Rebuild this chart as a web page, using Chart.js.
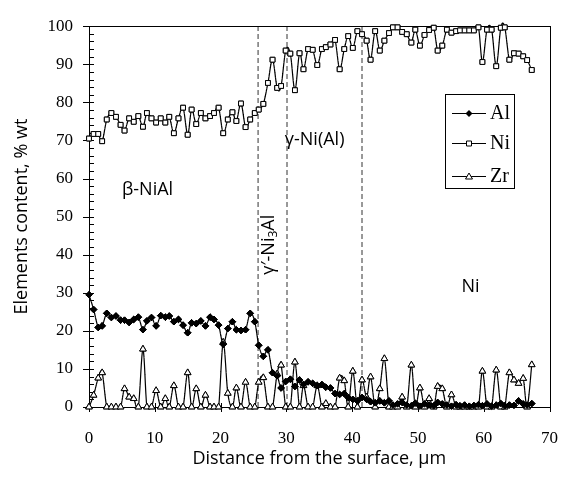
<!DOCTYPE html>
<html>
<head>
<meta charset="utf-8">
<script src="https://cdn.jsdelivr.net/npm/chart.js@4.4.1/dist/chart.umd.min.js"></script>
<style>
  html, body { margin: 0; padding: 0; background: #fff; }
  #wrap { width: 579px; height: 477px; position: relative; }
</style>
</head>
<body>
<div id="wrap"><canvas id="chart"></canvas></div>
<script>
// distance from the surface, µm
const distance = [
  0, 0.7, 1.4, 2.0, 2.7, 3.4, 4.1, 4.8, 5.4, 6.1,
  6.8, 7.5, 8.2, 8.8, 9.5, 10.2, 10.9, 11.6, 12.2, 12.9,
  13.6, 14.3, 15.0, 15.6, 16.3, 17.0, 17.7, 18.4, 19.0, 19.7,
  20.4, 21.1, 21.8, 22.4, 23.1, 23.8, 24.5, 25.2, 25.8, 26.5,
  27.2, 27.9, 28.6, 29.2, 29.9, 30.6, 31.3, 32.0, 32.6, 33.3,
  34.0, 34.7, 35.4, 36.0, 36.7, 37.4, 38.1, 38.8, 39.4, 40.1,
  40.8, 41.5, 42.2, 42.8, 43.5, 44.2, 44.9, 45.6, 46.2, 46.9,
  47.6, 48.3, 49.0, 49.6, 50.3, 51.0, 51.7, 52.4, 53.0, 53.7,
  54.4, 55.1, 55.8, 56.4, 57.1, 57.8, 58.5, 59.2, 59.8, 60.5,
  61.2, 61.9, 62.6, 63.2, 63.9, 64.6, 65.3, 66.0, 66.6, 67.3
]

const alValues = [
  29.5, 25.6, 20.9, 21.3, 24.6, 23.5, 23.9, 22.8, 22.8, 22.2,
  23.0, 23.6, 20.3, 22.6, 23.5, 21.3, 24.0, 23.6, 23.9, 22.4,
  23.0, 21.5, 19.5, 22.1, 21.9, 22.6, 21.3, 23.6, 23.0, 21.5,
  16.5, 20.6, 22.4, 20.3, 20.1, 20.3, 24.6, 22.4, 16.2, 13.3,
  15.0, 9.0, 8.2, 5.0, 6.7, 7.3, 5.4, 7.1, 5.9, 6.6,
  6.2, 5.6, 5.9, 5.2, 5.0, 3.5, 3.3, 3.5, 2.5, 2.0,
  1.6, 2.5, 2.0, 1.4, 1.1, 1.6, 1.1, 1.6, 0.5, 0.8,
  1.2, 0.5, 0.3, 1.0, 0.2, 0.8, 0.5, 0.3, 1.2, 0.8,
  0.5, 0.2, 0.6, 0.3, 0.5, 0.2, 0.4, 0.6, 0.3, 0.8,
  0.2, 0.5, 0.9, 0.3, 0.5, 0.4, 1.6, 0.8, 0.5, 0.9
]

const niValues = [
  70.5, 71.7, 71.7, 69.8, 75.5, 77.2, 76.2, 74.1, 72.6, 75.8,
  74.9, 76.4, 73.6, 77.2, 75.8, 74.7, 75.8, 74.7, 76.2, 71.9,
  75.8, 78.6, 71.5, 78.1, 74.3, 77.2, 75.8, 76.4, 77.2, 78.6,
  71.9, 75.5, 77.4, 75.1, 79.7, 73.5, 75.5, 77.2, 78.1, 79.6,
  85.1, 91.2, 83.8, 84.3, 93.6, 92.8, 83.2, 92.9, 88.7, 94.0,
  93.8, 89.8, 94.0, 94.5, 95.2, 96.4, 88.7, 94.0, 97.4, 94.3,
  98.7, 97.9, 96.2, 91.2, 98.7, 93.6, 96.2, 98.2, 99.7, 99.7,
  98.5, 97.9, 95.7, 99.1, 94.9, 97.7, 99.0, 99.6, 93.6, 94.9,
  99.1, 98.3, 98.7, 98.9, 98.9, 98.9, 98.9, 99.7, 90.6, 99.1,
  99.1, 89.5, 99.6, 99.7, 91.2, 92.9, 92.8, 92.1, 91.1, 88.5
]

const zrValues = [
  0, 3.1, 7.6, 9.0, 0, 0, 0, 0, 4.8, 2.6,
  2.2, 0, 15.2, 0, 0, 4.3, 0, 2.2, 0, 5.6,
  0, 0, 9.0, 0, 4.8, 0, 3.1, 0, 0, 0,
  17.0, 3.6, 0, 5.0, 0, 6.5, 0, 0, 6.5, 7.7,
  0, 0, 8.7, 11.0, 0, 0, 11.8, 0, 5.6, 0,
  0, 5.6, 0, 0.9, 0, 0, 7.6, 6.9, 0, 9.4,
  0, 7.1, 2.6, 7.9, 0, 4.8, 12.7, 0, 0, 0,
  2.6, 0, 11.0, 0, 5.0, 0, 2.2, 0, 5.4, 4.8,
  0, 3.2, 0, 0, 0, 0, 0, 0, 9.4, 0,
  0, 9.7, 0, 0, 9.0, 7.1, 6.2, 7.5, 0, 11.1
]

// phase boundaries (dashed lines), µm
const boundaries = [25.7, 30.1, 41.5]

const xTicks = [0, 10, 20, 30, 40, 50, 60, 70]
const yTicks = [0, 10, 20, 30, 40, 50, 60, 70, 80, 90, 100]

const seriesNames = ['Al', 'Ni', 'Zr']
const seriesValues = [alValues, niValues, zrValues]

const toPoints = vals => vals.map((v, i) => ({ x: distance[i], y: v }))

const serif = 'Liberation Serif'
const sans = 'Open Sans'

const seriesStyle = {
  borderColor: '#000',
  borderWidth: 1,
  showLine: false,
  pointBorderColor: '#000',
  pointBorderWidth: 1
}

const boundarySets = boundaries.map(b => ({
  label: '',
  data: [{ x: b, y: 0 }, { x: b, y: 100 }],
  borderColor: '#333',
  borderWidth: 1,
  borderDash: [5, 3],
  pointRadius: 0,
  tension: 0
}))

// the connecting curves would not show as strokes, so each curve is laid down
// as thin filled strips along a smoothed path through the scale positions,
// then the library's markers are drawn again on top
function fillCurve(ctx, px, py, top, bottom) {
  const half = 0.6
  const steps = 8
  for (let i = 0; i < px.length - 1; i++) {
    const i0 = Math.max(i - 1, 0), i3 = Math.min(i + 2, px.length - 1)
    const c1x = px[i] + (px[i + 1] - px[i0]) / 6, c1y = py[i] + (py[i + 1] - py[i0]) / 6
    const c2x = px[i + 1] - (px[i3] - px[i]) / 6, c2y = py[i + 1] - (py[i3] - py[i]) / 6
    const q = []
    for (let s = 0; s <= steps; s++) {
      const t = s / steps, u = 1 - t
      const bx = u * u * u * px[i] + 3 * u * u * t * c1x + 3 * u * t * t * c2x + t * t * t * px[i + 1]
      const by = u * u * u * py[i] + 3 * u * u * t * c1y + 3 * u * t * t * c2y + t * t * t * py[i + 1]
      q.push([bx, Math.max(top - 3, Math.min(bottom, by))])
    }
    ctx.beginPath()
    for (let s = 0; s < steps; s++) {
      const [ax, ay] = q[s], [bx, by] = q[s + 1]
      const len = Math.hypot(bx - ax, by - ay) || 1
      const nx = -(by - ay) / len * half, ny = (bx - ax) / len * half
      const ex = (bx - ax) / len * 0.3, ey = (by - ay) / len * 0.3
      ctx.moveTo(ax + nx - ex, ay + ny - ey)
      ctx.lineTo(bx + nx + ex, by + ny + ey)
      ctx.lineTo(bx - nx + ex, by - ny + ey)
      ctx.lineTo(ax - nx - ex, ay - ny - ey)
      ctx.closePath()
    }
    ctx.fill()
  }
}

const seriesCurves = {
  id: 'seriesCurves',
  afterDraw(chart) {
    const { ctx, chartArea: a, scales: { x, y } } = chart
    const order = [2, 1, 0]
    ctx.save()
    ctx.fillStyle = '#000'
    order.forEach(idx => {
      const vals = seriesValues[idx]
      const px = vals.map((v, i) => x.getPixelForValue(distance[i]))
      const py = vals.map(v => y.getPixelForValue(v))
      fillCurve(ctx, px, py, a.top, a.bottom)
    })
    ctx.restore()
    ctx.save()
    order.forEach(idx => {
      chart.getDatasetMeta(idx).data.forEach(el => el.draw(ctx, a))
    })
    ctx.restore()
  }
}

// markers for the home-made legend
function marker(ctx, kind, x, y) {
  ctx.save()
  ctx.lineWidth = 1
  ctx.strokeStyle = '#000'
  ctx.beginPath()
  if (kind === 'Al') {
    ctx.moveTo(x, y - 3.5); ctx.lineTo(x + 3.5, y); ctx.lineTo(x, y + 3.5); ctx.lineTo(x - 3.5, y)
    ctx.closePath(); ctx.fillStyle = '#000'; ctx.fill()
  } else if (kind === 'Ni') {
    ctx.rect(x - 2.5, y - 2.5, 5, 5); ctx.fillStyle = '#fff'; ctx.fill(); ctx.stroke()
  } else {
    ctx.moveTo(x, y - 3.5); ctx.lineTo(x + 3.5, y + 2.5); ctx.lineTo(x - 3.5, y + 2.5)
    ctx.closePath(); ctx.fillStyle = '#fff'; ctx.fill(); ctx.stroke()
  }
  ctx.restore()
}

const decorations = {
  id: 'decorations',
  afterDatasetsDraw(chart) {
    const { ctx, chartArea: a, scales: { x, y } } = chart
    ctx.save()
    // frame
    ctx.strokeStyle = '#000'
    ctx.lineWidth = 1
    ctx.strokeRect(Math.round(a.left) + 0.5, Math.round(a.top) + 0.5, Math.round(a.right - a.left), Math.round(a.bottom - a.top))
    // y ticks, minor every 2
    ctx.beginPath()
    for (let v = 0; v <= 100; v += 2) {
      const py = Math.round(y.getPixelForValue(v)) + 0.5
      const major = v % 10 === 0
      ctx.moveTo(a.left - (major ? 6 : 0), py)
      ctx.lineTo(a.left + 5, py)
    }
    xTicks.forEach(v => {
      const px = Math.round(x.getPixelForValue(v)) + 0.5
      ctx.moveTo(px, a.bottom - 4)
      ctx.lineTo(px, a.bottom + 5)
    })
    ctx.stroke()

    // phase labels
    ctx.fillStyle = '#000'
    ctx.textAlign = 'center'
    ctx.textBaseline = 'middle'
    ctx.font = `18px "${sans}"`
    ctx.fillText('β-NiAl', x.getPixelForValue(8.9), y.getPixelForValue(57.1))
    ctx.fillText('γ-Ni(Al)', x.getPixelForValue(34.3), y.getPixelForValue(70.2))
    ctx.fillText('Ni', x.getPixelForValue(58.0), y.getPixelForValue(31.6))

    // rotated γ'-Ni3Al
    ctx.save()
    ctx.translate(x.getPixelForValue(27.4), y.getPixelForValue(42.6))
    ctx.rotate(-Math.PI / 2)
    const p1 = 'γ′-Ni', p3 = 'Al'
    ctx.font = `18px "${sans}"`
    const w1 = ctx.measureText(p1).width, w3 = ctx.measureText(p3).width
    ctx.font = `12px "${sans}"`
    const w2 = ctx.measureText('3').width
    const cx = -(w1 + w2 + w3) / 2
    ctx.textAlign = 'left'
    ctx.font = `18px "${sans}"`
    ctx.fillText(p1, cx, 0)
    ctx.font = `12px "${sans}"`
    ctx.fillText('3', cx + w1, 4)
    ctx.font = `18px "${sans}"`
    ctx.fillText(p3, cx + w1 + w2, 0)
    ctx.restore()
    ctx.restore()
  },
  afterDraw(chart) {
    const { ctx } = chart
    ctx.save()
    // legend box
    const lx = 445, ly = 94, lw = 69, lh = 94
    ctx.fillStyle = '#fff'
    ctx.fillRect(lx, ly, lw, lh)
    ctx.strokeStyle = '#000'
    ctx.lineWidth = 1
    ctx.strokeRect(lx + 0.5, ly + 0.5, lw, lh)
    ctx.font = `20px "${serif}"`
    ctx.textAlign = 'left'
    ctx.textBaseline = 'middle'
    const rows = [113, 143, 176]
    seriesNames.forEach((name, i) => {
      const ry = rows[i] + 0.5
      ctx.beginPath()
      ctx.moveTo(452, ry); ctx.lineTo(486, ry)
      ctx.strokeStyle = '#000'
      ctx.stroke()
      marker(ctx, name, 469, ry)
      ctx.fillStyle = '#000'
      ctx.fillText(name, 490, rows[i] + 1)
    })
    ctx.restore()
  }
}

new Chart(document.getElementById('chart'), {
  type: 'line',
  data: {
    datasets: [
      { label: 'Al', data: toPoints(alValues), ...seriesStyle,
        pointStyle: 'rectRot', pointRadius: 3.3, pointBackgroundColor: '#000' },
      { label: 'Ni', data: toPoints(niValues), ...seriesStyle, clip: 6,
        pointStyle: 'rect', pointRadius: 3.4, pointBackgroundColor: '#fff' },
      { label: 'Zr', data: toPoints(zrValues), ...seriesStyle, clip: 6,
        pointStyle: 'triangle', pointRadius: 3.8, pointBackgroundColor: '#fff' },
      ...boundarySets
    ]
  },
  options: {
    responsive: true,
    maintainAspectRatio: false,
    animation: false,
    events: [],
    layout: { padding: { left: 0, top: 15, right: 12, bottom: 0 } },
    plugins: { legend: { display: false }, tooltip: { enabled: false } },
    scales: {
      x: {
        type: 'linear', min: 0, max: 70,
        afterFit: s => { s.height = 70 },
        afterBuildTicks: s => { s.ticks = xTicks.map(v => ({ value: v })) },
        grid: { display: false, drawTicks: false },
        border: { display: false },
        ticks: { color: '#000', padding: 21, maxRotation: 0, font: { family: serif, size: 17 } },
        title: { display: true, text: 'Distance from the surface, μm', color: '#000',
          padding: { top: 0, bottom: 7 }, font: { family: sans, size: 18 } }
      },
      y: {
        min: 0, max: 100,
        afterFit: s => { s.width = 89 },
        afterBuildTicks: s => { s.ticks = yTicks.map(v => ({ value: v })) },
        grid: { display: false, drawTicks: false },
        border: { display: false },
        ticks: { color: '#000', padding: 16, font: { family: serif, size: 17 } },
        title: { display: true, text: 'Elements content, % wt', color: '#000',
          padding: { top: 11, bottom: 0 }, font: { family: sans, size: 18 } }
      }
    }
  },
  plugins: [seriesCurves, decorations]
})
</script>
</body>
</html>
